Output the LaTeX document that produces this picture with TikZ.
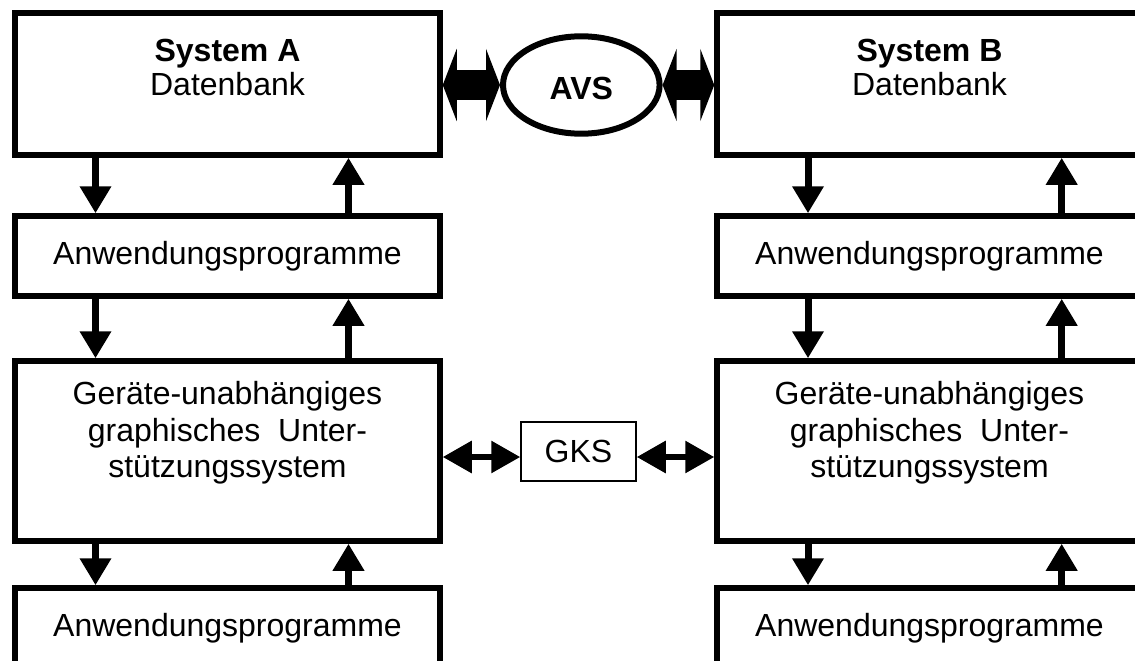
\documentclass[tikz,border=0pt]{standalone}
\usepackage{fontspec}
\setmainfont{Liberation Sans}
\usetikzlibrary{arrows.meta,shapes.geometric}
\begin{document}
\begin{tikzpicture}[x=1pt,y=-1pt,
  box/.style={draw,line width=5.5pt,rectangle,inner sep=0pt,minimum width=425pt,
    font=\fontsize{32}{36.5}\selectfont,align=center},
  txt/.style={inner sep=0pt,align=center},
  varrow/.style={line width=7pt,-{Triangle[width=30pt,length=27pt]}},
  bigarrow/.style={line width=30pt,{Triangle[width=72pt,length=14pt]}-{Triangle[width=72pt,length=14pt]}},
  gksarrow/.style={line width=6pt,{Triangle[width=31pt,length=29pt]}-{Triangle[width=31pt,length=29pt]}},
]
\clip (0,0) rectangle (1135,661);
\fill[white] (0,0) rectangle (1135,661);

% left column
\node[box,minimum height=142pt] (A1) at (227.5,84) {};
\node[txt,font=\fontsize{32}{34}\selectfont] (tA1) at (227.5,67.5) {\textbf{System A}\\Datenbank};
\node[box,minimum height=80pt] (A2) at (227.5,256) {Anwendungsprogramme};
\node[box,minimum height=180pt] (A3) at (227.5,451) {};
\node[txt,font=\fontsize{32}{36.5}\selectfont] (tA3) at (227.5,433) {Geräte-unabhängiges\\graphisches\ \ Unter-\\stützungssystem};
\node[box,minimum height=80pt] (A4) at (227.5,628) {Anwendungsprogramme};

% right column
\node[box,minimum height=142pt] (B1) at (929.5,84) {};
\node[txt,font=\fontsize{32}{34}\selectfont] (tB1) at (929.5,67.5) {\textbf{System B}\\Datenbank};
\node[box,minimum height=80pt] (B2) at (929.5,256) {Anwendungsprogramme};
\node[box,minimum height=180pt] (B3) at (929.5,451) {};
\node[txt,font=\fontsize{32}{36.5}\selectfont] (tB3) at (929.5,433) {Geräte-unabhängiges\\graphisches\ \ Unter-\\stützungssystem};
\node[box,minimum height=80pt] (B4) at (929.5,628) {Anwendungsprogramme};

% middle
\node[draw,ellipse,line width=6pt,minimum width=156.6pt,minimum height=97.4pt,inner sep=0pt,
  text height=29pt,text depth=0pt,font=\bfseries\fontsize{32}{36}\selectfont] (avs) at (581.3,85) {AVS};
\node[draw,line width=1.5pt,minimum width=115pt,minimum height=59pt,inner sep=0pt,
  font=\fontsize{32}{36}\selectfont] (gks) at (578.5,451.5) {GKS};

% coordinates
\coordinate (xl1) at (95.5,0);
\coordinate (xl2) at (348.5,0);
\coordinate (xr1) at (808,0);
\coordinate (xr2) at (1061.7,0);
\coordinate (gy) at (0,457);

% vertical arrows left
\draw[varrow] (A1.south -| xl1) -- (A2.north -| xl1);
\draw[varrow] (A2.north -| xl2) -- (A1.south -| xl2);
\draw[varrow] (A2.south -| xl1) -- (A3.north -| xl1);
\draw[varrow] (A3.north -| xl2) -- (A2.south -| xl2);
\draw[varrow] (A3.south -| xl1) -- (A4.north -| xl1);
\draw[varrow] (A4.north -| xl2) -- (A3.south -| xl2);
% vertical arrows right
\draw[varrow] (B1.south -| xr1) -- (B2.north -| xr1);
\draw[varrow] (B2.north -| xr2) -- (B1.south -| xr2);
\draw[varrow] (B2.south -| xr1) -- (B3.north -| xr1);
\draw[varrow] (B3.north -| xr2) -- (B2.south -| xr2);
\draw[varrow] (B3.south -| xr1) -- (B4.north -| xr1);
\draw[varrow] (B4.north -| xr2) -- (B3.south -| xr2);

% horizontal arrows
\draw[bigarrow] (A1.east |- avs) -- (avs.west);
\draw[bigarrow] (avs.east) -- (B1.west |- avs);
\draw[gksarrow] (A3.east |- gy) -- (gks.west |- gy);
\draw[gksarrow] (gks.east |- gy) -- (B3.west |- gy);
\end{tikzpicture}
\end{document}
